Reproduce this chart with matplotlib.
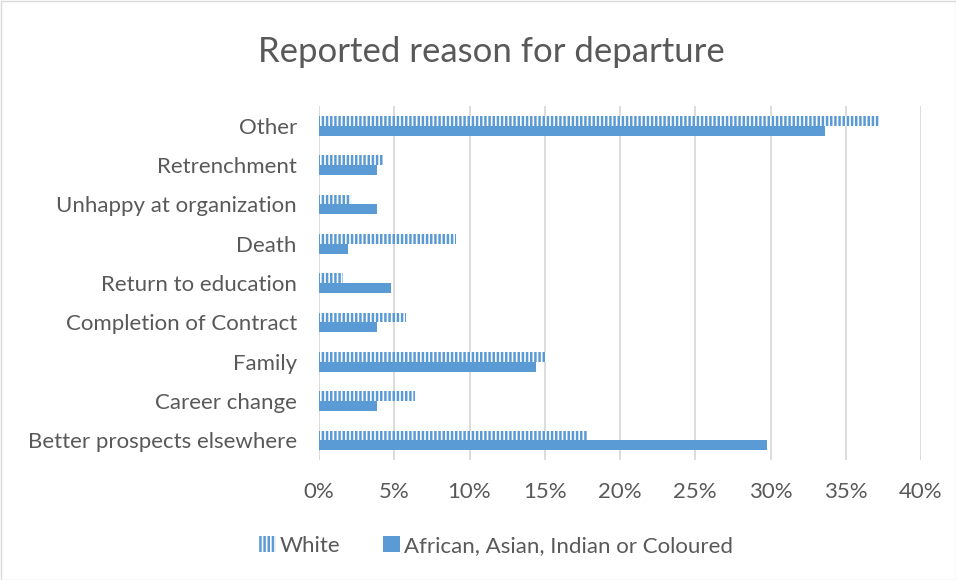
import matplotlib
matplotlib.use("Agg")
import matplotlib.pyplot as plt
import numpy as np
from matplotlib.patches import Patch
from matplotlib.ticker import FuncFormatter, MultipleLocator

categories = [
    "Better prospects elsewhere",
    "Career change",
    "Family",
    "Completion of Contract",
    "Return to education",
    "Death",
    "Unhappy at organization",
    "Retrenchment",
    "Other",
]
white = [17.8, 6.4, 15.1, 5.8, 1.6, 9.1, 2.1, 4.25, 37.2]
african = [29.8, 3.85, 14.4, 3.85, 4.8, 1.9, 3.85, 3.85, 33.6]
series_names = ["White", "African, Asian, Indian or Coloured"]

blue = "#5B9BD5"
text_col = "#595959"
grid_col = "#D9D9D9"

plt.rcParams["font.family"] = ["Lato", "DejaVu Sans"]
plt.rcParams["hatch.linewidth"] = 1.8

fig = plt.figure(figsize=(9.56, 5.8), dpi=100)
ax = fig.add_axes([319 / 956, 1 - 460 / 580, (921 - 319) / 956, (460 - 106) / 580])

y = np.arange(len(categories))
h = 0.25
ax.barh(y + h / 2, white, height=h, facecolor="white", edgecolor=blue,
        hatch="||||", linewidth=0, zorder=3)
ax.barh(y - h / 2, african, height=h, color=blue, linewidth=0, zorder=3)

ax.set_ylim(-0.5, len(categories) - 0.5)
ax.set_xlim(0, 40)
ax.xaxis.set_major_locator(MultipleLocator(5))
ax.xaxis.set_major_formatter(FuncFormatter(lambda v, p: f"{v:.0f}%"))
ax.set_yticks(y)
ax.set_yticklabels(categories)
ax.grid(axis="x", color=grid_col, linewidth=1.3, zorder=0)
for s in ax.spines.values():
    s.set_visible(False)
ax.tick_params(axis="both", length=0, labelsize=16, colors=text_col)
ax.tick_params(axis="y", pad=16)
ax.tick_params(axis="x", pad=16)

fig.text(491 / 956, 1 - 52 / 580, "Reported reason for departure",
         ha="center", va="center", fontsize=25, color=text_col)

handles = [
    Patch(facecolor="white", edgecolor=blue, hatch="||||", linewidth=0),
    Patch(facecolor=blue, linewidth=0),
]
fig.legend(handles, series_names, loc="center", bbox_to_anchor=(496 / 956, 1 - 546 / 580),
           ncol=2, frameon=False, fontsize=16, labelcolor=text_col,
           handlelength=0.75, handleheight=0.75, handletextpad=0.2, columnspacing=1.9)

border = plt.Rectangle((0.5 / 956, 0.5 / 580), 1 - 1 / 956, 1 - 1 / 580,
                       transform=fig.transFigure, fill=False, edgecolor="#D9D9D9",
                       linewidth=1)
fig.add_artist(border)

fig.savefig("out.png", dpi=100)
